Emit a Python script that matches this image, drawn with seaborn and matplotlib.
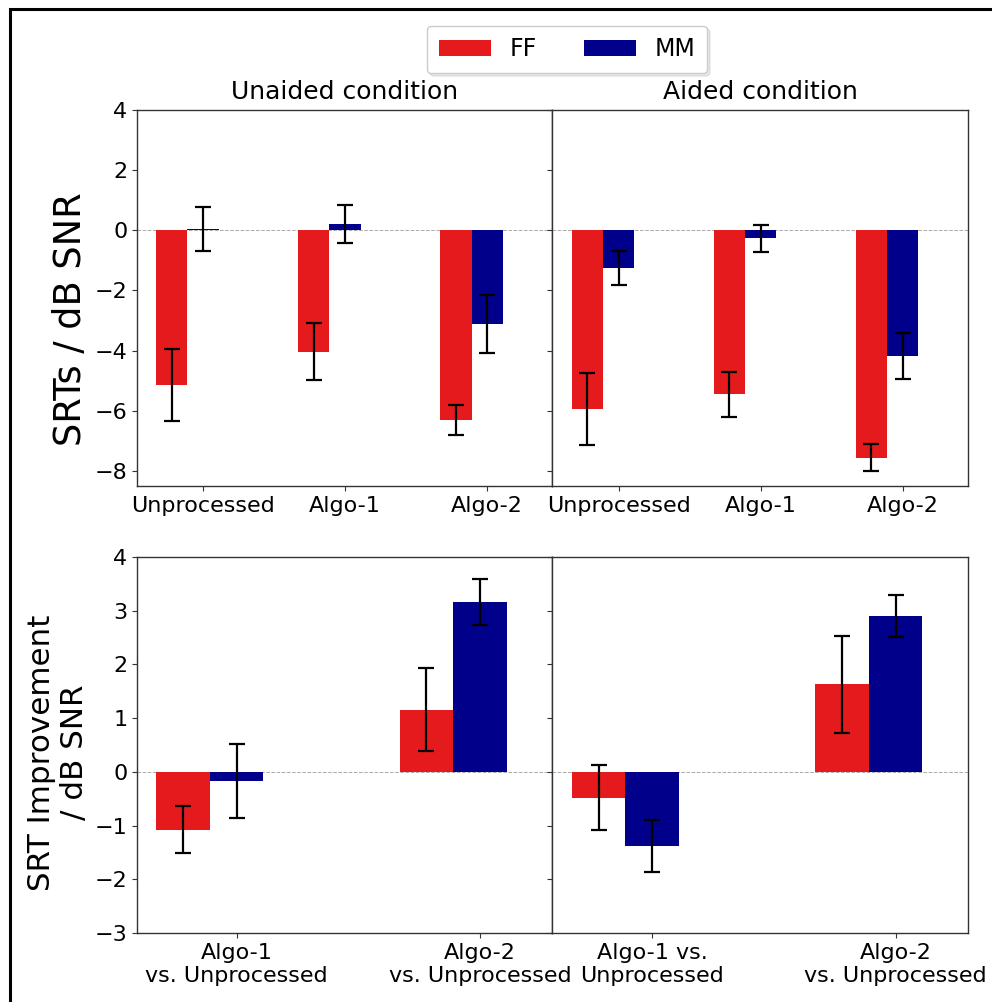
import matplotlib
matplotlib.use("Agg")
import matplotlib.pyplot as plt
import matplotlib.patches as mpatches
import seaborn as sns
import pandas as pd

# ---------------- data ----------------
groups = ["FF", "MM"]
colors = ["#e41a1c", "#00008b"]

srt_conditions = ["Unprocessed", "Algo-1", "Algo-2"]
unaided_ff = [-5.14, -4.04, -6.30]
unaided_ff_err = [1.20, 0.95, 0.49]
unaided_mm = [0.03, 0.21, -3.12]
unaided_mm_err = [0.73, 0.62, 0.97]
aided_ff = [-5.94, -5.45, -7.56]
aided_ff_err = [1.20, 0.75, 0.44]
aided_mm = [-1.26, -0.26, -4.19]
aided_mm_err = [0.57, 0.45, 0.76]

imp_conditions = ["Algo-1", "Algo-2"]
imp_labels_unaided = ["Algo-1\nvs. Unprocessed", "Algo-2\nvs. Unprocessed"]
imp_labels_aided = ["Algo-1 vs.\nUnprocessed", "Algo-2\nvs. Unprocessed"]
imp_unaided_ff = [-1.08, 1.16]
imp_unaided_ff_err = [0.44, 0.77]
imp_unaided_mm = [-0.17, 3.17]
imp_unaided_mm_err = [0.69, 0.43]
imp_aided_ff = [-0.48, 1.63]
imp_aided_ff_err = [0.60, 0.90]
imp_aided_mm = [-1.38, 2.91]
imp_aided_mm_err = [0.49, 0.39]

titles = ["Unaided condition", "Aided condition"]

# ---------------- style ----------------
sns.set_style("ticks")
plt.rcParams["font.family"] = ["DejaVu Sans"]
plt.rcParams["text.color"] = "black"
plt.rcParams["axes.labelcolor"] = "black"
plt.rcParams["axes.titlecolor"] = "black"
plt.rcParams["axes.edgecolor"] = "#333333"
plt.rcParams["xtick.color"] = "#333333"
plt.rcParams["ytick.color"] = "#333333"
plt.rcParams["xtick.labelcolor"] = "black"
plt.rcParams["ytick.labelcolor"] = "black"

fig, axes = plt.subplots(2, 2, figsize=(9.92, 10.02), dpi=100, sharey="row")
fig.subplots_adjust(left=0.1381, right=0.9758, top=0.8902, bottom=0.0689,
                    wspace=0, hspace=0.189)


def make_df(conds, ff, ff_err, mm, mm_err):
    rows = []
    for c, v, e in zip(conds, ff, ff_err):
        rows.append({"cond": c, "group": "FF", "val": v, "err": e})
    for c, v, e in zip(conds, mm, mm_err):
        rows.append({"cond": c, "group": "MM", "val": v, "err": e})
    return pd.DataFrame(rows)


panels = [
    (axes[0, 0], make_df(srt_conditions, unaided_ff, unaided_ff_err, unaided_mm, unaided_mm_err), srt_conditions),
    (axes[0, 1], make_df(srt_conditions, aided_ff, aided_ff_err, aided_mm, aided_mm_err), srt_conditions),
    (axes[1, 0], make_df(imp_conditions, imp_unaided_ff, imp_unaided_ff_err, imp_unaided_mm, imp_unaided_mm_err), imp_labels_unaided),
    (axes[1, 1], make_df(imp_conditions, imp_aided_ff, imp_aided_ff_err, imp_aided_mm, imp_aided_mm_err), imp_labels_aided),
]

for ax, df, ticklabels in panels:
    sns.barplot(data=df, x="cond", y="val", hue="group", hue_order=groups,
                palette=colors, width=0.44, saturation=1, errorbar=None,
                legend=False, ax=ax, edgecolor="none", linewidth=0)
    # error bars at library-computed bar centres
    for cont, g in zip(ax.containers, groups):
        sub = df[df["group"] == g]
        xs = [b.get_x() + b.get_width() / 2 for b in cont]
        ax.errorbar(xs, sub["val"].values, yerr=sub["err"].values, fmt="none",
                    ecolor="black", elinewidth=1.6, capsize=6, capthick=1.6, zorder=5)
    mm_centres = [b.get_x() + b.get_width() / 2 for b in ax.containers[1]]
    ax.set_xticks(mm_centres)
    ax.set_xticklabels(ticklabels, fontsize=16)
    ax.axhline(0, color="#aaaaaa", lw=0.7, ls="--", zorder=0.5)
    ax.set_xlabel("")
    ax.set_ylabel("")
    ax.tick_params(axis="y", labelsize=16)
    for s in ax.spines.values():
        s.set_visible(True)
        s.set_linewidth(1.0)

# limits
for ax in axes[0]:
    c0 = ax.get_xticks()[0]
    ax.set_xlim(c0 - 0.465, c0 + 2 + 0.46)
for ax in axes[1]:
    c0 = ax.get_xticks()[0]
    ax.set_xlim(c0 - 0.41, c0 + 1 + 0.298)

axes[0, 0].set_ylim(-8.5, 4)
axes[0, 0].set_yticks([-8, -6, -4, -2, 0, 2, 4])
axes[1, 0].set_ylim(-3, 4)
axes[1, 0].set_yticks([-3, -2, -1, 0, 1, 2, 3, 4])

for ax, t in zip(axes[0], titles):
    ax.set_title(t, fontsize=18, pad=8)

axes[0, 0].set_ylabel("SRTs / dB SNR", fontsize=26.5)
axes[0, 0].yaxis.set_label_coords(-0.115, 0.443)
axes[1, 0].set_ylabel("SRT Improvement\n/ dB SNR", fontsize=22.3)
axes[1, 0].yaxis.set_label_coords(-0.115, 0.48)

# legend
handles = [axes[0, 0].containers[0], axes[0, 0].containers[1]]
fig.legend(handles, groups, loc="center", bbox_to_anchor=(0.5716, 0.9506),
           ncol=2, fontsize=17, handlelength=2.2, handleheight=0.7,
           handletextpad=0.8, columnspacing=2.0, borderpad=0.5, frameon=True,
           shadow={"alpha": 0.12})

# outer frame (cropped figure border)
frame = mpatches.Rectangle((9.5 / 992, -0.05), 1.2, 1.0 - 9.5 / 1002 + 0.05,
                           transform=fig.transFigure, fill=False,
                           edgecolor="black", linewidth=2.2, clip_on=False)
fig.patches.append(frame)

fig.savefig("out.png", dpi=100)
